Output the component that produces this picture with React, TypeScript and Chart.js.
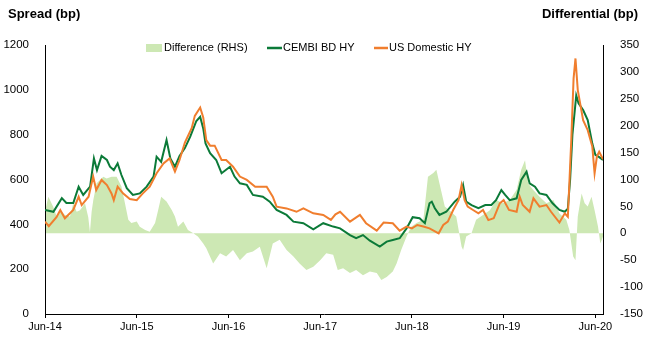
import React, { useEffect, useRef } from 'react';
import { Chart, registerables } from 'chart.js';

Chart.register(...registerables);

const xTickLabels = ['Jun-14', 'Jun-15', 'Jun-16', 'Jun-17', 'Jun-18', 'Jun-19', 'Jun-20'];

// months since Jun-14
const cembiMonths = [0,1.1,2.2,2.8,3.7,4.4,5.0,5.9,6.4,6.8,7.4,8.1,8.5,9.0,9.5,10.0,10.7,11.5,12.4,13.3,14.2,14.6,15.2,15.9,16.4,17.0,17.6,18.3,19.0,19.8,20.3,20.7,21.0,21.6,22.4,23.1,24.2,24.8,25.5,26.4,27.2,28.5,29.4,30.3,31.6,32.5,33.8,35.1,36.4,37.7,38.6,39.9,40.7,41.6,42.5,43.8,44.7,45.5,46.4,47.3,48.1,49.0,49.7,50.3,50.6,51.0,51.6,52.5,53.6,54.3,54.7,55.1,55.8,56.7,57.6,58.4,59.0,59.7,60.2,60.8,61.7,62.3,63.0,63.4,64.1,64.7,65.6,66.4,67.3,68.0,68.4,68.7,69.0,69.5,69.8,70.4,71.0,71.6,72.0,72.5,73.0];
const cembiSpread = [464,456,517,495,495,568,531,568,694,642,705,687,657,642,672,620,561,531,538,568,613,702,679,776,694,657,705,740,791,861,880,828,761,717,687,628,657,613,583,576,531,523,501,464,442,412,405,378,405,390,382,352,338,352,327,301,323,330,338,382,432,427,405,494,501,472,442,456,501,523,575,501,486,472,486,486,508,553,531,508,516,598,635,583,568,538,531,494,464,456,470,600,800,975,940,910,865,760,710,700,687];

const usMonths = [0,0.5,1.5,2.0,2.6,3.7,4.4,4.8,5.7,6.3,6.7,7.4,8.1,8.7,9.0,9.5,10.2,11.1,12.0,12.8,13.7,14.6,15.5,16.3,17.0,17.6,18.3,19.2,19.6,20.3,20.7,21.1,21.6,22.2,23.1,23.7,24.6,25.5,26.4,27.5,29.0,29.8,30.3,31.6,32.9,33.8,35.1,36.4,37.4,38.0,38.6,39.9,41.2,42.0,43.4,44.3,45.5,46.4,47.3,48.0,48.7,49.5,50.3,51.5,52.1,52.7,53.4,54.1,54.5,54.9,55.3,56.0,56.7,57.3,58.0,58.7,59.5,60.0,60.7,61.7,62.1,62.5,63.4,63.9,64.7,65.6,66.2,67.3,68.0,68.4,68.6,68.85,69.15,69.4,69.7,70.4,71.0,71.6,71.9,72.2,72.5,73.0];
const usSpread = [412,392,432,464,427,464,523,486,523,613,553,598,575,538,508,568,538,513,508,538,568,628,672,694,635,687,765,830,884,921,877,776,751,751,687,687,657,613,598,568,568,523,479,471,456,471,449,442,420,445,456,412,442,405,372,408,405,372,390,382,397,390,382,360,397,412,464,508,575,508,479,464,449,464,419,427,494,508,464,456,523,486,456,516,479,486,456,408,449,434,583,776,1050,1140,999,865,820,747,628,702,724,690];

const diffMonths = [0.13,0.44,1.09,1.53,1.96,2.61,3.27,3.7,4.14,4.58,5.23,5.66,5.88,6.1,6.32,6.75,7.19,7.63,8.06,8.71,9.37,10.0,10.46,10.9,11.3,12.0,12.4,13.1,13.7,14.4,14.8,15.2,15.9,16.6,17.0,17.4,18.1,18.7,19.4,20.0,20.7,21.1,22.0,22.9,23.7,24.6,25.5,26.4,27.2,28.1,29.0,29.8,30.7,31.6,32.5,33.3,34.2,35.1,36.0,36.8,37.7,38.3,39.0,39.9,40.7,41.6,42.5,43.4,44.0,44.7,45.5,46.0,46.6,47.3,47.9,48.6,49.5,50.1,50.8,51.2,51.6,52.3,52.9,53.8,54.5,54.7,55.1,55.8,56.4,57.3,58.2,59.05,59.9,60.8,61.7,62.3,62.8,63.2,63.85,64.7,65.6,66.5,67.3,68.2,68.6,69.1,69.4,69.7,70.2,70.6,71.0,71.5,71.9,72.35,72.65,73.0];
const diffValues = [49,68,49,31,43,34,31,56,40,43,56,30,2,40,62,93,99,105,102,105,105,87,56,25,19,22,12,6,3,19,43,68,59,43,31,12,22,6,0,-6,-19,-28,-56,-37,-43,-31,-50,-37,-34,-25,-65,-19,-12,-31,-43,-56,-68,-62,-50,-37,-40,-68,-65,-74,-68,-78,-71,-74,-87,-81,-71,-56,-31,-6,12,19,25,105,112,118,93,50,43,31,-25,-31,-6,0,25,34,43,62,56,62,81,118,136,93,81,68,56,62,37,25,6,-43,-50,31,74,56,50,68,43,12,-19,-6];

const FONT = '"Liberation Sans", Arial, sans-serif';
const GREEN = '#0b7a38';
const ORANGE = '#f07e2e';
const AREA = '#cde8b4';

const toPts = (xs: number[], ys: number[]) => xs.map((x, i) => ({ x, y: ys[i] }));

const decorPlugin = {
  id: 'decor',
  afterDraw(chart: any) {
    const ctx = chart.ctx as CanvasRenderingContext2D;
    ctx.save();
    ctx.fillStyle = '#000';
    ctx.textBaseline = 'middle';
    ctx.font = `bold 13px ${FONT}`;
    ctx.textAlign = 'left';
    ctx.fillText('Spread (bp)', 8, 14);
    ctx.textAlign = 'right';
    ctx.fillText('Differential (bp)', 638, 14);

    // legend
    const ly = 48;
    ctx.font = `11px ${FONT}`;
    ctx.textAlign = 'left';
    ctx.fillStyle = AREA;
    ctx.fillRect(146, ly - 4, 16, 8);
    ctx.fillStyle = '#000';
    ctx.fillText('Difference (RHS)', 164, ly);
    ctx.strokeStyle = GREEN;
    ctx.lineWidth = 2.5;
    ctx.beginPath();
    ctx.moveTo(267, ly);
    ctx.lineTo(282, ly);
    ctx.stroke();
    ctx.fillText('CEMBI BD HY', 283, ly);
    ctx.strokeStyle = ORANGE;
    ctx.beginPath();
    ctx.moveTo(374, ly);
    ctx.lineTo(388, ly);
    ctx.stroke();
    ctx.fillText('US Domestic HY', 389, ly);
    ctx.restore();
  },
};

export default function App() {
  const ref = useRef<HTMLCanvasElement | null>(null);
  useEffect(() => {
    document.body.style.margin = '0';
    document.body.style.background = '#fff';
    if (!ref.current) return;
    const chart = new Chart(ref.current, {
      type: 'line',
      data: {
        datasets: [
          {
            label: 'US Domestic HY',
            data: toPts(usMonths, usSpread),
            borderColor: ORANGE,
            borderWidth: 2,
            pointRadius: 0,
            fill: false,
            yAxisID: 'y',
            order: 0,
          },
          {
            label: 'CEMBI BD HY',
            data: toPts(cembiMonths, cembiSpread),
            borderColor: GREEN,
            borderWidth: 2,
            pointRadius: 0,
            fill: false,
            yAxisID: 'y',
            order: 1,
          },
          {
            label: 'Difference (RHS)',
            data: toPts(diffMonths, diffValues),
            borderColor: AREA,
            backgroundColor: AREA,
            borderWidth: 0,
            pointRadius: 0,
            fill: 'origin',
            yAxisID: 'y1',
            order: 2,
          },
        ],
      },
      options: {
        animation: false,
        responsive: false,
        devicePixelRatio: 1,
        layout: { padding: { top: 45, left: 0, right: 0, bottom: 0 } },
        plugins: { legend: { display: false }, tooltip: { enabled: false }, title: { display: false } },
        scales: {
          x: {
            type: 'linear',
            min: 0,
            max: 73,
            ticks: {
              stepSize: 12,
              includeBounds: false,
              autoSkip: false,
              maxRotation: 0,
              color: '#000',
              padding: 2,
              font: { family: FONT, size: 11 },
              callback: (v: any) => xTickLabels[Math.round(Number(v) / 12)] ?? '',
            },
            grid: { display: true, drawOnChartArea: false, drawTicks: true, tickLength: 4, color: '#000' },
            border: { display: true, color: '#000', width: 1 },
            afterFit: (s: any) => { s.height = 32; },
          },
          y: {
            type: 'linear',
            position: 'left',
            min: 0,
            max: 1200,
            ticks: { stepSize: 200, color: '#000', padding: 8, font: { family: FONT, size: 11.5 }, callback: (v: any) => String(v) },
            grid: { display: false },
            border: { display: true, color: '#000', width: 1 },
            afterFit: (s: any) => { s.width = 45; },
          },
          y1: {
            type: 'linear',
            position: 'right',
            min: -150,
            max: 350,
            ticks: { stepSize: 50, color: '#000', padding: 9, font: { family: FONT, size: 11.5 }, callback: (v: any) => String(v) },
            grid: { display: false },
            border: { display: true, color: '#000', width: 1 },
            afterFit: (s: any) => { s.width = 45; },
          },
        },
      },
      plugins: [decorPlugin],
    });
    return () => chart.destroy();
  }, []);
  return (
    <div style={{ width: 648, height: 346, background: '#fff' }}>
      <canvas ref={ref} width={648} height={346} style={{ display: 'block' }} />
    </div>
  );
}
